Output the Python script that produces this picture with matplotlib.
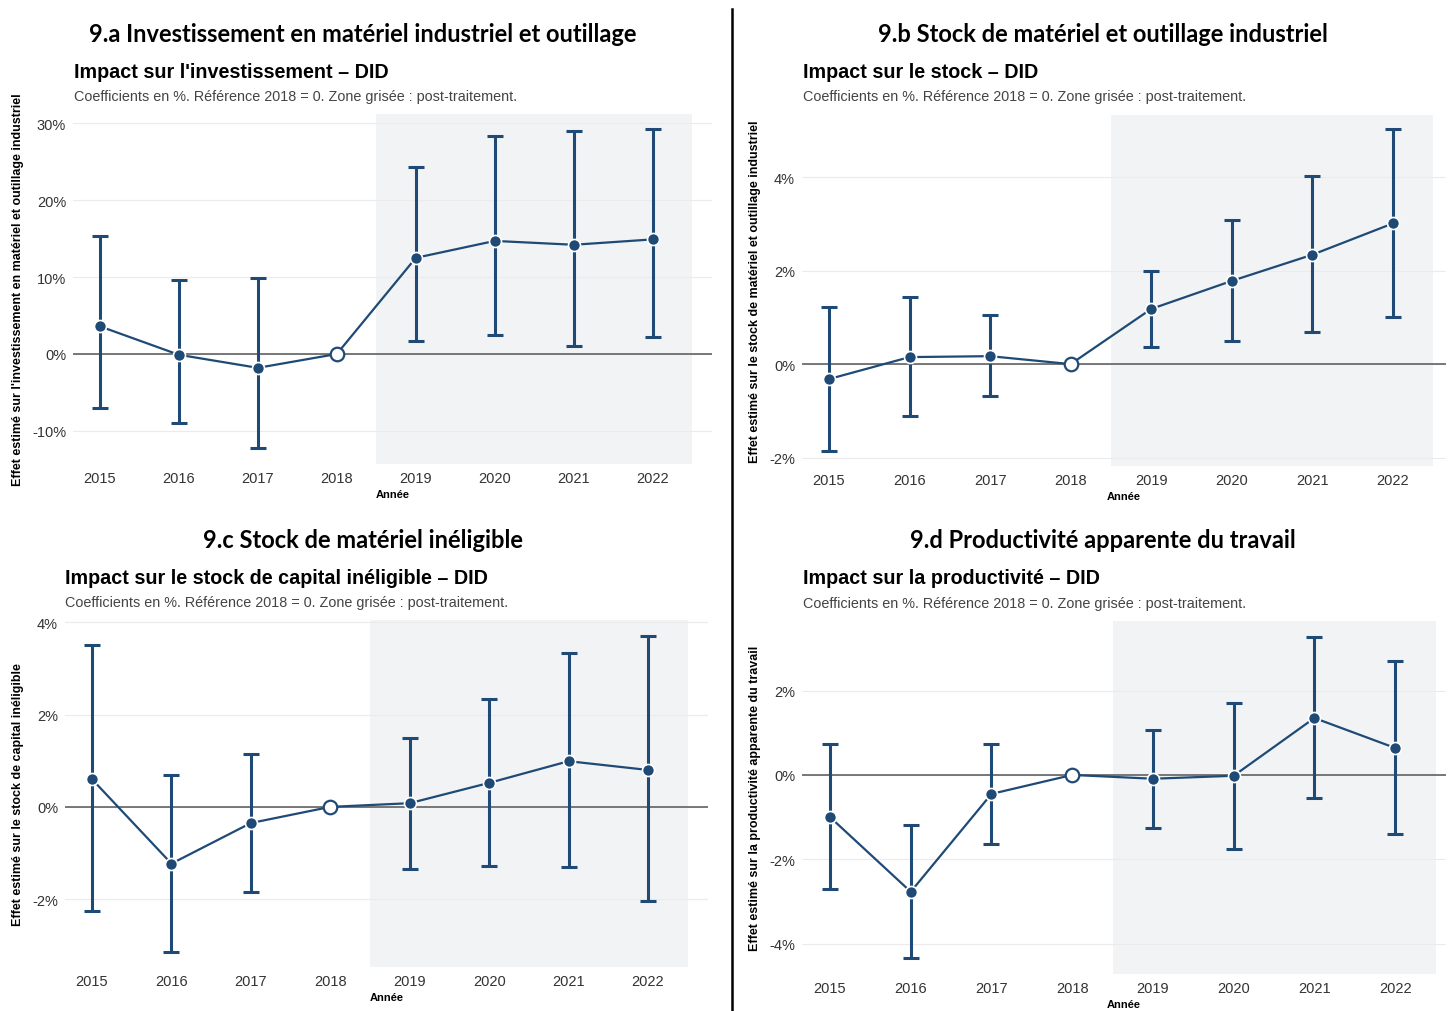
import numpy as np
import matplotlib
matplotlib.use('Agg')
import matplotlib.pyplot as plt
from matplotlib.ticker import FuncFormatter

years = [2015, 2016, 2017, 2018, 2019, 2020, 2021, 2022]

# 9.a investissement
inv_coef = [3.6, -0.1, -1.8, 0.0, 12.5, 14.7, 14.2, 14.9]
inv_low = [-7.0, -9.0, -12.2, 0.0, 1.7, 2.5, 1.0, 2.2]
inv_high = [15.3, 9.6, 9.9, 0.0, 24.3, 28.4, 29.0, 29.2]

# 9.b stock matériel industriel
stk_coef = [-0.32, 0.15, 0.17, 0.0, 1.18, 1.78, 2.34, 3.01]
stk_low = [-1.85, -1.12, -0.69, 0.0, 0.37, 0.49, 0.69, 1.01]
stk_high = [1.23, 1.44, 1.05, 0.0, 2.0, 3.08, 4.02, 5.03]

# 9.c stock inéligible
ine_coef = [0.6, -1.23, -0.35, 0.0, 0.08, 0.52, 0.99, 0.80]
ine_low = [-2.25, -3.14, -1.84, 0.0, -1.34, -1.28, -1.30, -2.03]
ine_high = [3.5, 0.69, 1.15, 0.0, 1.5, 2.34, 3.33, 3.70]

# 9.d productivité
prod_coef = [-1.0, -2.77, -0.45, 0.0, -0.09, -0.02, 1.35, 0.64]
prod_low = [-2.70, -4.34, -1.63, 0.0, -1.26, -1.75, -0.55, -1.40]
prod_high = [0.73, -1.18, 0.73, 0.0, 1.07, 1.71, 3.27, 2.70]

W, H = 1448, 1012
BLUE = '#1f4a75'
SUB = "Coefficients en %. Référence 2018 = 0. Zone grisée : post-traitement."

fig = plt.figure(figsize=(W / 100, H / 100), dpi=100)


def px_axes(l, t, r, b):
    return fig.add_axes([l / W, 1 - b / H, (r - l) / W, (b - t) / H])


def ftext(x, y, s, **kw):
    fig.text(x / W, 1 - y / H, s, **kw)


def panel(box, coef, low, high, ylim, xlim, yticks, ylabel, title, subtitle_x, heading_y, main_title, main_x):
    l, t, r, b = box
    ax = px_axes(l, t, r, b)
    ax.set_xlim(*xlim)
    ax.set_ylim(*ylim)
    ax.axvspan(2018.5, 2022.5, color='#f2f3f5', zorder=0, lw=0)
    for yt in yticks:
        ax.axhline(yt, color='#ebebeb', lw=0.8, zorder=0.5)
    ax.axhline(0, color='#555555', lw=1.1, zorder=1)
    yrs = np.array(years)
    c = np.array(coef)
    lo = np.array(low)
    hi = np.array(high)
    ax.plot(yrs, c, color=BLUE, lw=1.6, zorder=2)
    m = yrs != 2018
    ax.errorbar(yrs[m], c[m], yerr=[c[m] - lo[m], hi[m] - c[m]], fmt='none',
                ecolor=BLUE, elinewidth=2.2, capsize=5.8, capthick=2.2, zorder=3)
    ax.scatter(yrs[m], c[m], s=75, color=BLUE, edgecolor='white', linewidth=1.2, zorder=4)
    ax.scatter([2018], [0], s=95, color='white', edgecolor=BLUE, linewidth=1.6, zorder=4)
    ax.set_xticks(years)
    ax.set_yticks(yticks)
    ax.yaxis.set_major_formatter(FuncFormatter(lambda v, p: '%d%%' % v))
    ax.tick_params(length=0, labelsize=10.5, labelcolor='#333333', pad=5)
    for s in ax.spines.values():
        s.set_visible(False)
    ax.set_xlabel('Année', fontsize=8, fontweight='bold', labelpad=3)
    ax.set_ylabel(ylabel, fontsize=9, fontweight='bold', labelpad=6)
    ftext(main_x, heading_y, main_title, fontsize=17, fontweight='bold',
          family='Lato', ha='center', va='center')
    ftext(subtitle_x, heading_y + 38, title, fontsize=14.2, fontweight='bold',
          ha='left', va='center')
    ftext(subtitle_x, heading_y + 63, SUB, fontsize=10.4, color='#444444',
          ha='left', va='center')
    return ax


plt.rcParams['font.family'] = ['Liberation Sans', 'DejaVu Sans']

panel((73, 115, 712, 465), inv_coef, inv_low, inv_high, (-14.3, 31.2), (2014.66, 2022.75),
      [-10, 0, 10, 20, 30], "Effet estimé sur l'investissement en matériel et outillage industriel",
      "Impact sur l'investissement \u2013 DID", 74, 34,
      "9.a Investissement en matériel industriel et outillage", 363)

panel((802, 116, 1446, 467), stk_coef, stk_low, stk_high, (-2.18, 5.33), (2014.665, 2022.66),
      [-2, 0, 2, 4], "Effet estimé sur le stock de matériel et outillage industriel",
      "Impact sur le stock \u2013 DID", 803, 34,
      "9.b Stock de matériel et outillage industriel", 1103)

panel((65, 621, 708, 968), ine_coef, ine_low, ine_high, (-3.47, 4.05), (2014.66, 2022.755),
      [-2, 0, 2, 4], "Effet estimé sur le stock de capital inéligible",
      "Impact sur le stock de capital inéligible \u2013 DID", 65, 540,
      "9.c Stock de matériel inéligible", 363)

panel((802, 622, 1446, 975), prod_coef, prod_low, prod_high, (-4.72, 3.65), (2014.653, 2022.63),
      [-4, -2, 0, 2], "Effet estimé sur la productivité apparente du travail",
      "Impact sur la productivité \u2013 DID", 803, 541,
      "9.d Productivité apparente du travail", 1103)

fig.add_artist(plt.Line2D([732 / W, 732 / W], [0, 1 - 10 / H], color='black', lw=1.8))

fig.savefig('out.png', dpi=100)
